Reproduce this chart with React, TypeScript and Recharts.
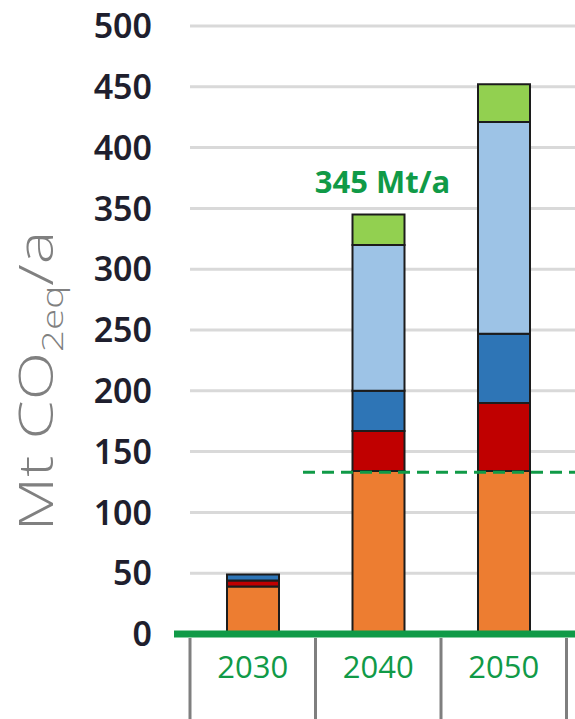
import { BarChart, Bar, XAxis, YAxis, CartesianGrid, ReferenceLine, LabelList } from "recharts";

// Werte (Mt CO2eq/a)
const JAHRE = ["2030", "2040", "2050"];
const ORANGE_WERTE = [39, 134, 134];
const ROT_WERTE = [5, 33, 56];
const DUNKELBLAU_WERTE = [5, 33, 57];
const HELLBLAU_WERTE = [0, 120, 174];
const HELLGRUEN_WERTE = [0, 25, 31];
const SUMMEN_LABEL = ["", "345 Mt/a", ""];
const Y_TICKS = [0, 50, 100, 150, 200, 250, 300, 350, 400, 450, 500];
const GRENZE = 133;

const ORANGE = "#ED7D31";
const ROT = "#C00000";
const DUNKELBLAU = "#2E75B6";
const HELLBLAU = "#9DC3E6";
const HELLGRUEN = "#92D050";
const GRUEN = "#109A47";
const RAND = "#1c1c1c";

const HALB_BAND = 62.75;
// gestrichelte Linie beginnt erst kurz vor dem 2040-Balken
const STRICH_MUSTER = "0 113 " + "12 7 ".repeat(24).trim();

const daten = JAHRE.map((jahr, i) => ({
  jahr,
  orange: ORANGE_WERTE[i],
  rot: ROT_WERTE[i],
  dunkelblau: DUNKELBLAU_WERTE[i],
  hellblau: HELLBLAU_WERTE[i],
  hellgruen: HELLGRUEN_WERTE[i],
  label: SUMMEN_LABEL[i],
}));

// eslint-disable-next-line @typescript-eslint/no-explicit-any
function YTick({ x, y, payload }: any) {
  return (
    <text x={x} y={y} dy="0.36em" textAnchor="end" fill="#1f1f2e" fontFamily="'Noto Sans', 'Open Sans', sans-serif" fontWeight={600} fontSize={34}>
      {payload.value}
    </text>
  );
}

// eslint-disable-next-line @typescript-eslint/no-explicit-any
function XTick({ x, y, payload, index }: any) {
  const links = x - HALB_BAND;
  return (
    <g>
      {index === 0 && <line x1={links - 16} x2={links} y1={y} y2={y} stroke={GRUEN} strokeWidth={7} />}
      <line x1={links} x2={links} y1={y + 4} y2={y + 90} stroke="#7f7f7f" strokeWidth={3} />
      {index === JAHRE.length - 1 && (
        <line x1={x + HALB_BAND} x2={x + HALB_BAND} y1={y + 4} y2={y + 90} stroke="#7f7f7f" strokeWidth={3} />
      )}
      <text x={x} y={y + 44} textAnchor="middle" fill={GRUEN} fontFamily="'Open Sans', sans-serif" fontSize={31}>
        {payload.value}
      </text>
    </g>
  );
}

function YTitel() {
  return (
    <text
      transform="translate(53, 381) rotate(-90) scale(1.34, 1)"
      textAnchor="middle"
      fill="#808080"
      fontFamily="'Open Sans', sans-serif"
      fontWeight={300}
      fontSize={47}
    >
      Mt CO
      <tspan fontSize={29} dy={10}>2eq</tspan>
      <tspan fontSize={47} dy={-10}>/a</tspan>
    </text>
  );
}

// eslint-disable-next-line @typescript-eslint/no-explicit-any
function SummenLabel({ x, y, width, value }: any) {
  if (!value) return null;
  return (
    <text x={x + width / 2 + 4} y={y - 21} textAnchor="middle" fill={GRUEN} fontFamily="'Open Sans', sans-serif" fontWeight={700} fontSize={31}>
      {value}
    </text>
  );
}

export default function App() {
  return (
    <div style={{ position: "absolute", left: 0, top: 0, width: 575, height: 719, overflow: "hidden", background: "#fff" }}>
      <BarChart width={575} height={719} data={daten} margin={{ top: 26, right: 0, left: 0, bottom: 0 }} barSize={52}>
        <CartesianGrid vertical={false} stroke="#d9d9d9" strokeWidth={3} />
        <YAxis
          domain={[0, 500]}
          ticks={Y_TICKS}
          width={190}
          axisLine={false}
          tickLine={false}
          tickSize={0}
          tickMargin={38}
          tick={<YTick />}
          label={{ content: () => <YTitel /> }}
          interval={0}
        />
        <Bar dataKey="orange" stackId="a" fill={ORANGE} stroke={RAND} strokeWidth={2} isAnimationActive={false} />
        <Bar dataKey="rot" stackId="a" fill={ROT} stroke={RAND} strokeWidth={2} isAnimationActive={false} />
        <Bar dataKey="dunkelblau" stackId="a" fill={DUNKELBLAU} stroke={RAND} strokeWidth={2} isAnimationActive={false} />
        <Bar dataKey="hellblau" stackId="a" fill={HELLBLAU} stroke={RAND} strokeWidth={2} isAnimationActive={false} />
        <Bar dataKey="hellgruen" stackId="a" fill={HELLGRUEN} stroke={RAND} strokeWidth={2} isAnimationActive={false}>
          <LabelList dataKey="label" content={<SummenLabel />} />
        </Bar>
        <ReferenceLine y={GRENZE} stroke={GRUEN} strokeWidth={3} strokeDasharray={STRICH_MUSTER} />
        <XAxis
          dataKey="jahr"
          height={85}
          padding={{ left: 0, right: 8.5 }}
          axisLine={{ stroke: GRUEN, strokeWidth: 7 }}
          tickLine={false}
          tickSize={0}
          tickMargin={0}
          tick={<XTick />}
          interval={0}
        />
      </BarChart>
    </div>
  );
}
